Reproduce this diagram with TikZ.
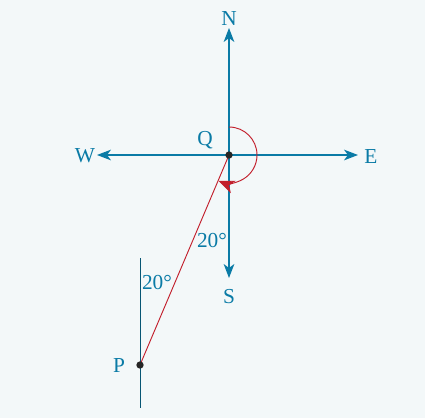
\documentclass[tikz,border=0pt]{standalone}
\usepackage{fontspec}
\setmainfont{Liberation Serif}
\usetikzlibrary{arrows.meta}
\definecolor{bg}{HTML}{F3F8F9}
\definecolor{tealc}{HTML}{0A7BA6}
\definecolor{redc}{HTML}{C21F2C}
\tikzset{
  axis/.style={draw=tealc, line width=0.8pt, -{Stealth[length=10.5pt,width=8pt,inset=3pt]}},
  lbl/.style={text=tealc, font=\fontsize{16}{18}\selectfont, inner sep=0pt},
  dotc/.style={circle, fill=black!85, inner sep=0pt, minimum size=5.5pt},
}
\begin{document}
\begin{tikzpicture}[x=0.75pt,y=-0.75pt]
\fill[bg] (0,0) rectangle (425,418);
\useasboundingbox (0,0) rectangle (425,418);
\coordinate (Q) at (229,155);
\coordinate (P) at (140,365);
\coordinate (Ntip) at (229,28);
\coordinate (Stip) at (229,278);
\coordinate (Wtip) at (97,155);
\coordinate (Etip) at (358,155);
\coordinate (Ptop) at (140,258);
\coordinate (Pbot) at (140,408);
\draw[axis] (Q) -- (Ntip);
\draw[axis] (Q) -- (Stip);
\draw[axis] (Q) -- (Wtip);
\draw[axis] (Q) -- (Etip);
\draw[draw=tealc!70!black, line width=0.7pt] (Ptop) -- (Pbot);
\draw[redc, line width=0.7pt] (P) -- (Q);
\draw[redc, line width=0.7pt, -{Stealth[length=12pt,width=10pt,inset=3.5pt]}]
  (229,127) arc[start angle=-90, end angle=112, radius=28];
\node[dotc] (q) at (Q) {};
\node[dotc] (p) at (P) {};
\node[lbl] (N) at (229,19) {N};
\node[lbl] (S) at (229,297) {S};
\node[lbl] (W) at (85,156) {W};
\node[lbl] (E) at (371,157) {E};
\node[lbl] (Ql) at (205,140) {Q};
\node[lbl] (Pl) at (119,366) {P};
\node[lbl] (a1) at (212,241) {20°};
\node[lbl] (a2) at (157,283) {20°};
\end{tikzpicture}
\end{document}
